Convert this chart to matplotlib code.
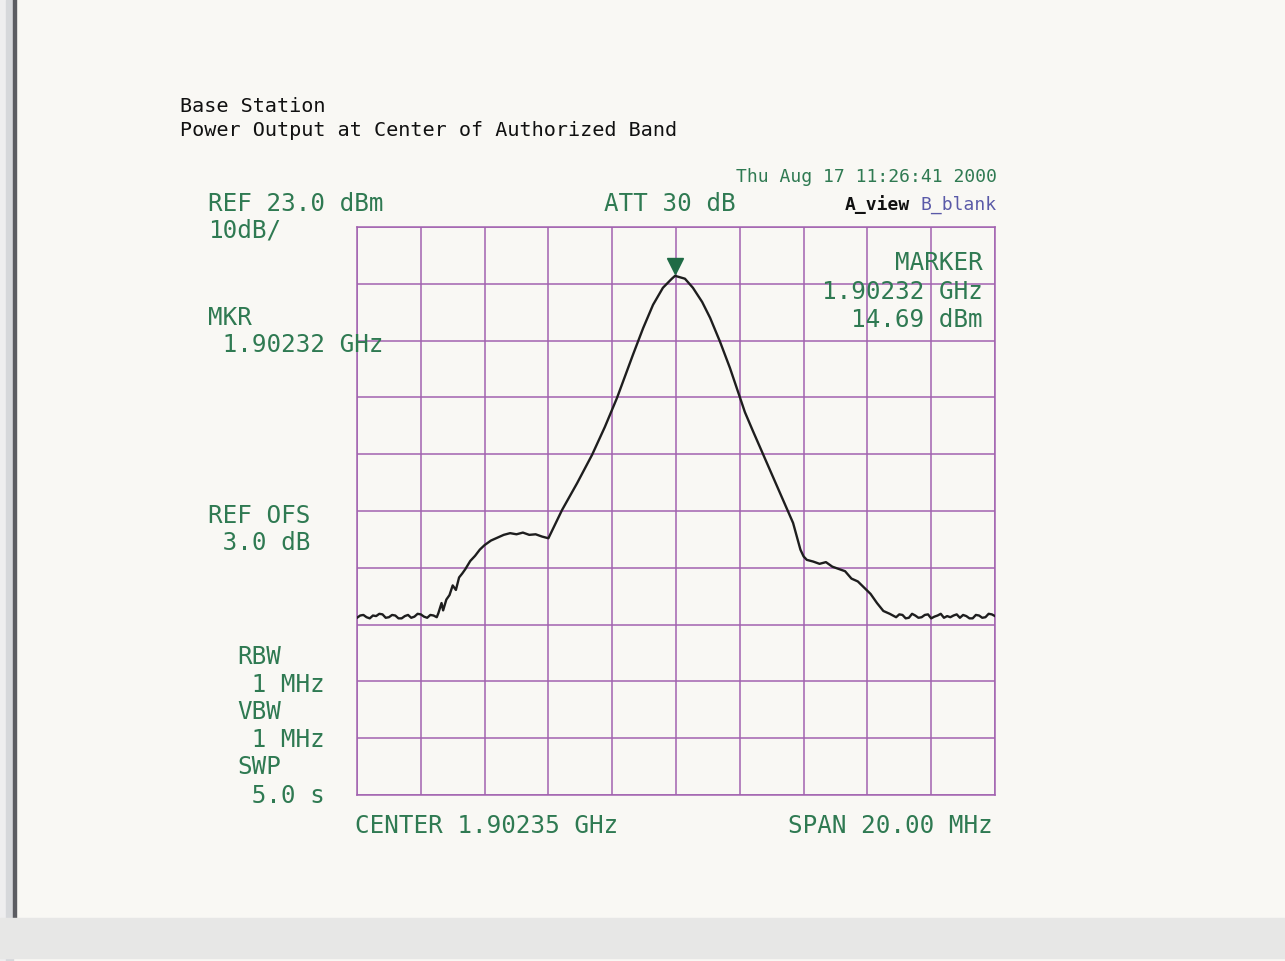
import matplotlib
matplotlib.use("Agg")
import matplotlib.pyplot as plt
from matplotlib.patches import Rectangle

W, H = 1285, 961

# trace: frequency offset from center (MHz) and level (dBm)
freq_mhz = [
    -10.0, -9.9, -9.8, -9.7, -9.6, -9.5, -9.4, -9.3, -9.2, -9.1, -9.0, -8.9, -8.8, -8.7,
    -8.6, -8.5, -8.4, -8.3, -8.2, -8.1, -8.0, -7.9, -7.8, -7.7, -7.6, -7.5,
    -7.45, -7.35, -7.3, -7.2, -7.1, -7.0, -6.9, -6.8, -6.7, -6.6, -6.45, -6.3, -6.15,
    -6.0, -5.8, -5.6, -5.4, -5.2, -5.0, -4.8, -4.6, -4.4, -4.2, -4.0,
    -3.57, -3.10, -2.63, -2.23, -1.85, -1.35, -1.03, -0.72, -0.41, -0.13, -0.03, 0.28, 0.53,
    0.82, 1.07, 1.38, 1.69, 2.01, 2.16, 2.41, 3.04, 3.67, 3.9, 4.0,
    4.1, 4.3, 4.5, 4.7, 4.9, 5.1, 5.3, 5.5, 5.7, 5.9, 6.1, 6.3, 6.5, 6.7, 6.9,
    7.0, 7.1, 7.2, 7.3, 7.4, 7.5, 7.6, 7.7, 7.8, 7.9, 8.0, 8.1, 8.2, 8.3, 8.4, 8.5,
    8.6, 8.7, 8.8, 8.9, 9.0, 9.1, 9.2, 9.3, 9.4, 9.5, 9.6, 9.7, 9.8, 9.9, 10.0,
]
level_dbm = [
    -45.8, -45.4, -45.3, -45.7, -45.9, -45.4, -45.5, -45.1, -45.2, -45.8, -45.7, -45.3, -45.4, -45.9,
    -45.9, -45.5, -45.3, -45.8, -45.6, -45.1, -45.2, -45.6, -45.8, -45.3, -45.4, -45.7,
    -45.0, -43.2, -44.5, -42.6, -41.8, -40.1, -40.9, -38.7, -38.0, -37.2, -35.8, -34.9, -33.8,
    -33.0, -32.2, -31.7, -31.2, -30.9, -31.1, -30.8, -31.2, -31.1, -31.5, -31.8,
    -26.8, -22.1, -17.1, -12.2, -7.1, 0.5, 5.2, 9.3, 12.3, 13.9, 14.4, 13.9, 12.3,
    9.8, 7.0, 2.8, -1.8, -7.1, -9.6, -12.9, -21.0, -29.1, -33.8, -35.0,
    -35.6, -35.9, -36.3, -36.0, -36.8, -37.2, -37.6, -38.9, -39.4, -40.5, -41.6, -43.2, -44.6, -45.1, -45.7,
    -45.2, -45.3, -45.9, -45.8, -45.1, -45.4, -45.8, -45.7, -45.3, -45.2, -45.9, -45.6, -45.4, -45.1, -45.8, -45.5,
    -45.7, -45.4, -45.2, -45.8, -45.3, -45.5, -45.9, -45.9, -45.3, -45.4, -45.8, -45.7, -45.1, -45.2, -45.5,
]

ref_level = 23.0
db_per_div = 10.0
span_mhz = 20.0
marker_freq = -0.03
marker_level = 14.69

green = "#2f7a52"
purple = "#a263b0"
mono = "DejaVu Sans Mono"


def px(x, y):
    return x / W, 1 - y / H


fig = plt.figure(figsize=(W / 100, H / 100), dpi=100)
fig.patch.set_facecolor("#f9f8f4")

# scan edges
fig.add_artist(Rectangle((0, 0), 6 / W, 1, transform=fig.transFigure, color="#eeeeef", zorder=0))
fig.add_artist(Rectangle((6 / W, 0), 7 / W, 1, transform=fig.transFigure, color="#d6d8db", zorder=0))
fig.add_artist(Rectangle((13 / W, 43 / H), 3 / W, 1, transform=fig.transFigure, color="#5c5d62", zorder=0))
fig.add_artist(Rectangle((0, 3 / H), 1, 40 / H, transform=fig.transFigure, color="#e7e7e6", zorder=0))

ax = fig.add_axes([357 / W, 1 - 795 / H, 638 / W, 568 / H])
ax.set_facecolor("none")
ax.set_xlim(-span_mhz / 2, span_mhz / 2)
ax.set_ylim(ref_level - 10 * db_per_div, ref_level)
ax.set_xticks([-span_mhz / 2 + i * span_mhz / 10 for i in range(11)])
ax.set_yticks([ref_level - i * db_per_div for i in range(11)])
ax.tick_params(length=0, labelbottom=False, labelleft=False)
ax.grid(True, color=purple, lw=1.1)
for s in ax.spines.values():
    s.set_color(purple)
    s.set_linewidth(1.1)

ax.plot(freq_mhz, level_dbm, color="#1e1e1e", lw=1.7, zorder=3)
ax.plot([marker_freq], [marker_level + 1.4], marker="v", ms=11, color="#1f6b45",
        clip_on=False, zorder=4)

# header
fig.text(*px(180, 107), "Base Station", family=mono, fontsize=14.5, color="#111111", va="center")
fig.text(*px(180, 131), "Power Output at Center of Authorized Band", family=mono,
         fontsize=14.5, color="#111111", va="center")

big = dict(family=mono, fontsize=17.5, color=green, va="center")
small = dict(family=mono, fontsize=13, va="center", ha="right")

fig.text(*px(997, 177), "Thu Aug 17 11:26:41 2000", color=green, **small)
fig.text(*px(910, 205), "A_view", color="#111111", fontweight="bold", **small)
fig.text(*px(997, 205), "B_blank", color="#5a5aa8", **small)

fig.text(*px(208, 204), "REF 23.0 dBm", **big)
fig.text(*px(208, 231), "10dB/", **big)
fig.text(*px(604, 204), "ATT 30 dB", **big)

fig.text(*px(983, 263), "MARKER", ha="right", **big)
fig.text(*px(983, 292), "1.90232 GHz", ha="right", **big)
fig.text(*px(983, 320), "14.69 dBm", ha="right", **big)

fig.text(*px(208, 318), "MKR", **big)
fig.text(*px(208, 345), " 1.90232 GHz", **big)
fig.text(*px(208, 516), "REF OFS", **big)
fig.text(*px(208, 543), " 3.0 dB", **big)

side = ["RBW", " 1 MHz", "VBW", " 1 MHz", "SWP", " 5.0 s"]
side_y = [657, 685, 712, 740, 767, 796]
for lab, yy in zip(side, side_y):
    fig.text(*px(237, yy), lab, **big)

fig.text(*px(355, 826), "CENTER 1.90235 GHz", **big)
fig.text(*px(993, 826), "SPAN 20.00 MHz", ha="right", **big)

fig.savefig("out.png", dpi=100, facecolor=fig.get_facecolor())
